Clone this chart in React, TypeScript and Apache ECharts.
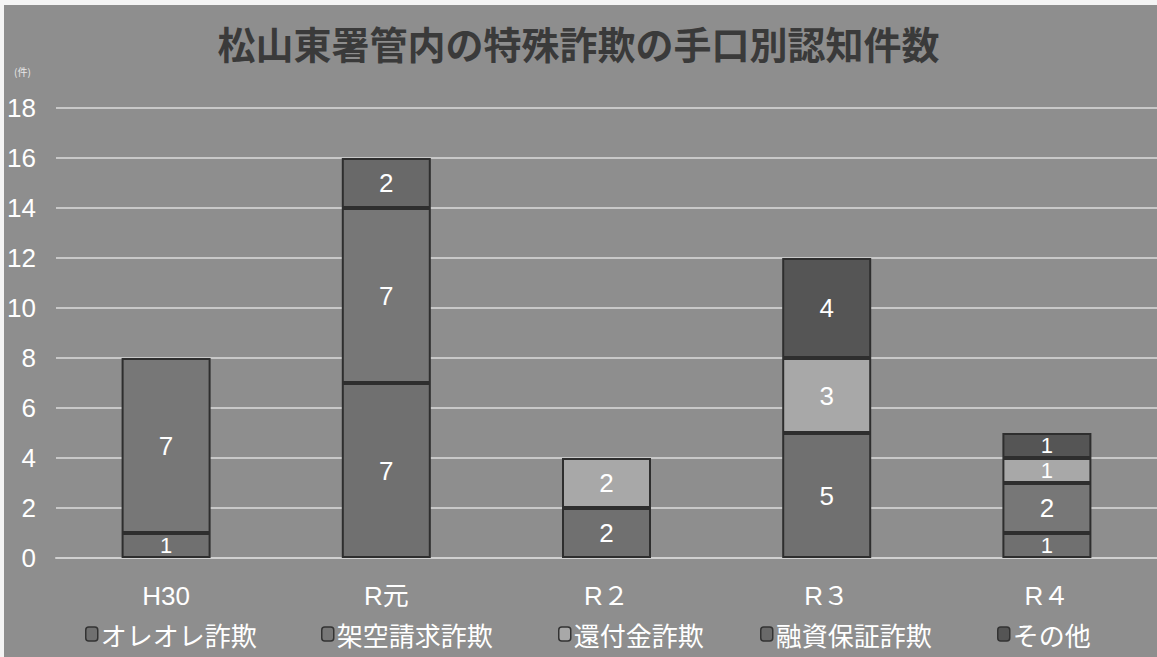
import React, { useEffect, useRef } from "react";
import * as echarts from "echarts";

const title = "松山東署管内の特殊詐欺の手口別認知件数";
const categories = ["H30", "R元", "R２", "R３", "R４"];
const seriesNames = ["オレオレ詐欺", "架空請求詐欺", "還付金詐欺", "融資保証詐欺", "その他"];
const oreore = [1, 7, 2, 5, 1];
const kakuu = [7, 7, 0, 0, 2];
const kanpu = [0, 0, 2, 3, 1];
const yushi = [0, 2, 0, 0, 0];
const sonota = [0, 0, 0, 4, 1];
const seriesValues = [oreore, kakuu, kanpu, yushi, sonota];
const colors = ["#707070", "#777777", "#a8a8a8", "#696969", "#555555"];
const legendLefts = [80, 316, 553, 755, 992];

export default function App() {
  const ref = useRef<HTMLDivElement>(null);
  useEffect(() => {
    document.body.style.margin = "0";
    document.body.style.background = "#ffffff";
    const chart = echarts.init(ref.current!, null, { renderer: "svg" });
    const font = "'Liberation Sans Narrow', 'Liberation Sans', 'Noto Sans CJK JP', sans-serif";
    chart.setOption({
      animation: false,
      backgroundColor: "#8e8e8e",
      title: {
        text: title,
        left: "center",
        top: 18,
        textStyle: { fontSize: 38, fontWeight: "bold", color: "#3a3a3a", fontFamily: "'Noto Sans CJK JP', sans-serif" },
      },
      graphic: [
        { type: "rect", left: 0, top: 0, shape: { width: 1157, height: 5 }, style: { fill: "#f4f4f4" } },
        { type: "rect", left: 0, top: 0, shape: { width: 4, height: 657 }, style: { fill: "#f4f4f4" } },
        { type: "text", left: 14, top: 66, style: { text: "(件)", fill: "#e8e8e8", fontSize: 10, fontFamily: "'Noto Sans CJK JP', sans-serif" } },
      ],
      legend: seriesNames.map((n, i) => ({
        data: [n],
        left: legendLefts[i],
        top: 616,
        itemWidth: 12,
        itemHeight: 14,
        itemGap: 4,
        textStyle: { color: "#ffffff", fontSize: 26, fontFamily: "'Noto Sans CJK JP', sans-serif", padding: [0, 0, 0, -2] },
        itemStyle: { borderColor: "#333333", borderWidth: 1.5 },
      })),
      grid: { left: 56, right: 0, top: 108, bottom: 99 },
      xAxis: {
        type: "category",
        data: categories,
        axisLine: { show: true, lineStyle: { color: "#d0d0d0", width: 2 } },
        axisTick: { show: false },
        axisLabel: { color: "#ffffff", fontSize: 26, margin: 25, fontFamily: font },
      },
      yAxis: {
        type: "value",
        min: 0,
        max: 18,
        interval: 2,
        axisLine: { show: false },
        axisTick: { show: false },
        axisLabel: { color: "#ffffff", fontSize: 26, margin: 20, fontFamily: font },
        splitLine: { lineStyle: { color: "#c8c8c8", width: 2 } },
      },
      series: seriesNames.map((n, i) => ({
        name: n,
        type: "bar",
        stack: "total",
        barWidth: 89,
        data: seriesValues[i].map((v) =>
          v === 0 ? "-" : v === 1 ? { value: v, label: { fontSize: 22, lineHeight: 20 } } : v
        ),
        itemStyle: { color: colors[i], borderColor: "#2e2e2e", borderWidth: 2 },
        label: {
          show: true,
          position: "inside",
          color: "#ffffff",
          fontSize: 26,
          lineHeight: 22,
          fontFamily: font,
        },
      })),
    });
    return () => chart.dispose();
  }, []);
  return <div ref={ref} style={{ width: 1157, height: 657 }} />;
}
